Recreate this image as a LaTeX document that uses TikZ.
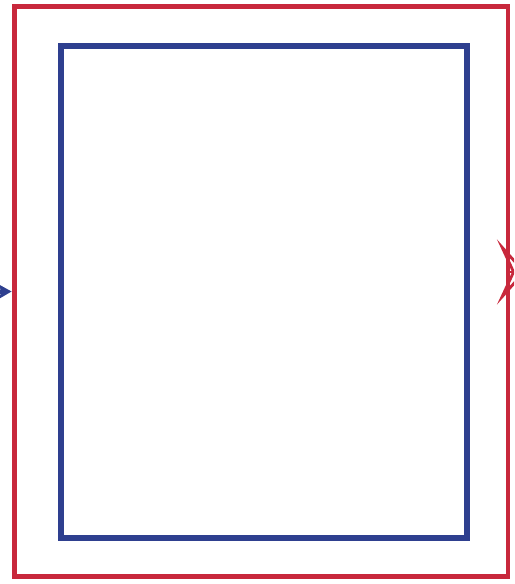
\documentclass[tikz,border=0pt]{standalone}
\usetikzlibrary{arrows.meta, positioning}
\definecolor{frameRed}{HTML}{C8283C}
\definecolor{frameBlue}{HTML}{2E3F8F}

\begin{document}
\begin{tikzpicture}[
    x=0.02cm, y=-0.02cm,
    outerbox/.style={rectangle, draw=frameRed, line width=2.8pt,
                 minimum width=9.88cm, minimum height=11.42cm, inner sep=0pt},
    innerbox/.style={rectangle, draw=frameBlue, line width=3.6pt,
                 minimum width=8.12cm, minimum height=9.84cm, inner sep=0pt},
  ]
    \useasboundingbox (0,0) rectangle (514,584);
    \clip (0,0) rectangle (514,584);

    \node[outerbox] (outer) at (261,291.5) {};
    \node[innerbox] (inner) at (264,292) {};

    % flow in and out
    \coordinate (src) at (-30,292);
    \coordinate (dst) at (526,272);
    \draw[frameBlue, line width=2.5pt, -{Stealth[length=8pt, width=9pt]}]
      (src) -- (outer.west);
    \draw[frameRed, line width=1.6pt,
      -{Stealth[open, length=0.58cm, width=1.3cm, inset=0.3cm, line width=1.6pt]}]
      (outer.east |- dst) -- (dst);
  \end{tikzpicture}
\end{document}
